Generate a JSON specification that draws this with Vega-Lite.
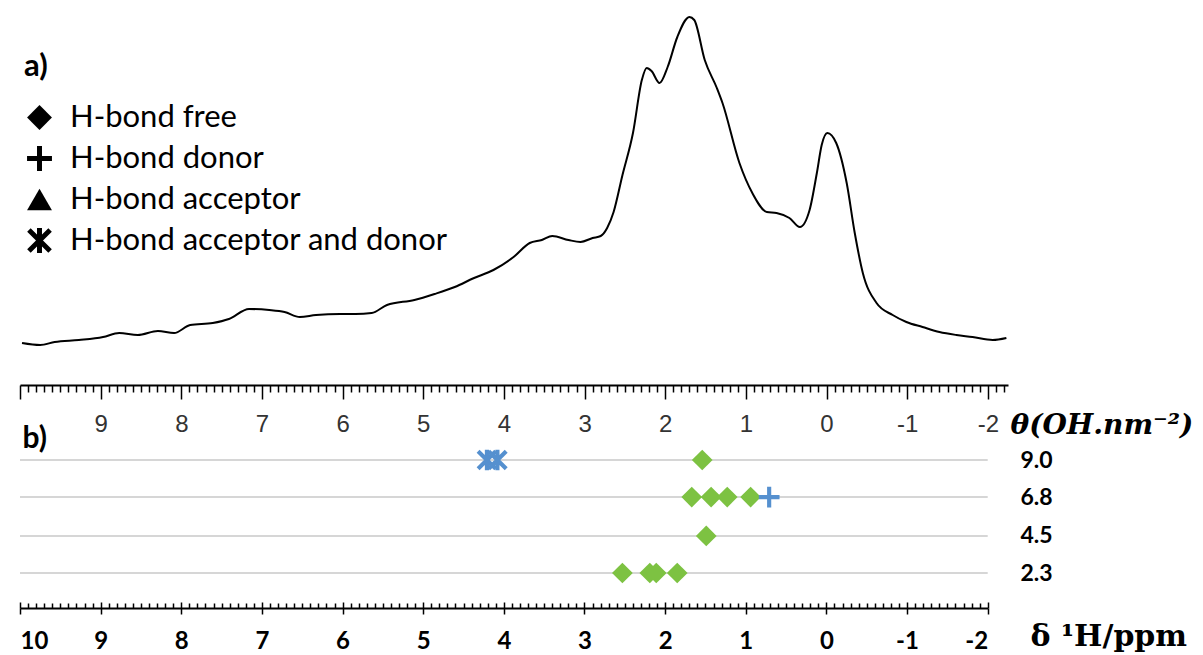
{
  "$schema": "https://vega.github.io/schema/vega-lite/v6.json",
  "width": 1183,
  "height": 655,
  "autosize": {"type": "none"},
  "padding": {"left": 20, "top": 0, "right": 0, "bottom": 0},
  "background": "white",
  "config": {"view": {"stroke": null}, "axis": {"grid": false}},
  "datasets": {
    "spectrum": [
      {"ppm": 9.975, "I": 7}, {"ppm": 9.75, "I": 5}, {"ppm": 9.57, "I": 8}, {"ppm": 9.27, "I": 10},
      {"ppm": 8.97, "I": 13}, {"ppm": 8.77, "I": 17}, {"ppm": 8.54, "I": 15}, {"ppm": 8.29, "I": 19},
      {"ppm": 8.09, "I": 17}, {"ppm": 7.89, "I": 25}, {"ppm": 7.61, "I": 27}, {"ppm": 7.41, "I": 31},
      {"ppm": 7.16, "I": 41}, {"ppm": 6.91, "I": 40}, {"ppm": 6.72, "I": 38}, {"ppm": 6.53, "I": 33},
      {"ppm": 6.33, "I": 35}, {"ppm": 6.03, "I": 36}, {"ppm": 5.84, "I": 36}, {"ppm": 5.64, "I": 37},
      {"ppm": 5.45, "I": 45}, {"ppm": 5.11, "I": 50}, {"ppm": 4.86, "I": 56}, {"ppm": 4.61, "I": 63},
      {"ppm": 4.37, "I": 72}, {"ppm": 4.13, "I": 80}, {"ppm": 3.88, "I": 93}, {"ppm": 3.68, "I": 107},
      {"ppm": 3.53, "I": 110}, {"ppm": 3.4, "I": 114}, {"ppm": 3.2, "I": 110}, {"ppm": 3.05, "I": 108},
      {"ppm": 2.9, "I": 112}, {"ppm": 2.8, "I": 114}, {"ppm": 2.72, "I": 122}, {"ppm": 2.64, "I": 138},
      {"ppm": 2.53, "I": 175}, {"ppm": 2.4, "I": 217}, {"ppm": 2.29, "I": 270}, {"ppm": 2.23, "I": 282},
      {"ppm": 2.17, "I": 279}, {"ppm": 2.07, "I": 267}, {"ppm": 1.97, "I": 283}, {"ppm": 1.85, "I": 313},
      {"ppm": 1.7, "I": 333}, {"ppm": 1.64, "I": 330}, {"ppm": 1.51, "I": 290}, {"ppm": 1.36, "I": 262},
      {"ppm": 1.29, "I": 247}, {"ppm": 1.08, "I": 187}, {"ppm": 0.92, "I": 157}, {"ppm": 0.74, "I": 138},
      {"ppm": 0.62, "I": 137}, {"ppm": 0.46, "I": 132}, {"ppm": 0.33, "I": 123}, {"ppm": 0.21, "I": 140},
      {"ppm": 0.12, "I": 177}, {"ppm": 0.06, "I": 205}, {"ppm": -0.01, "I": 217}, {"ppm": -0.12, "I": 207},
      {"ppm": -0.25, "I": 167}, {"ppm": -0.35, "I": 117}, {"ppm": -0.45, "I": 77}, {"ppm": -0.62, "I": 47},
      {"ppm": -0.82, "I": 35}, {"ppm": -0.99, "I": 28}, {"ppm": -1.19, "I": 23}, {"ppm": -1.4, "I": 18},
      {"ppm": -1.61, "I": 15}, {"ppm": -1.81, "I": 13}, {"ppm": -2.06, "I": 10}, {"ppm": -2.23, "I": 12}
    ],
    "coverage": [
      {"theta": 9.0}, {"theta": 6.8}, {"theta": 4.5}, {"theta": 2.3}
    ],
    "sites": [
      {"ppm": 4.21, "theta": 9.0, "bond": "H-bond acceptor and donor"},
      {"ppm": 4.08, "theta": 9.0, "bond": "H-bond acceptor and donor"},
      {"ppm": 1.54, "theta": 9.0, "bond": "H-bond free"},
      {"ppm": 1.67, "theta": 6.8, "bond": "H-bond free"},
      {"ppm": 1.43, "theta": 6.8, "bond": "H-bond free"},
      {"ppm": 1.23, "theta": 6.8, "bond": "H-bond free"},
      {"ppm": 0.94, "theta": 6.8, "bond": "H-bond free"},
      {"ppm": 0.71, "theta": 6.8, "bond": "H-bond donor"},
      {"ppm": 1.49, "theta": 4.5, "bond": "H-bond free"},
      {"ppm": 2.53, "theta": 2.3, "bond": "H-bond free"},
      {"ppm": 2.19, "theta": 2.3, "bond": "H-bond free"},
      {"ppm": 2.11, "theta": 2.3, "bond": "H-bond free"},
      {"ppm": 1.85, "theta": 2.3, "bond": "H-bond free"}
    ]
  },
  "layer": [
    {
      "data": {"name": "spectrum"},
      "mark": {"type": "line", "color": "black", "strokeWidth": 2, "interpolate": "monotone"},
      "encoding": {
        "x": {
          "field": "ppm", "type": "quantitative",
          "scale": {"domain": [10, -2.25], "range": [0, 988], "nice": false, "zero": false},
          "axis": {
            "orient": "bottom", "offset": -270, "title": null,
            "tickCount": 123, "labelOverlap": false, "labelBound": false,
            "labelExpr": "abs(datum.value - round(datum.value)) < 0.001 && datum.value < 9.5 ? '' + round(datum.value) : ''",
            "tickSize": {"condition": {"test": "abs(datum.value - round(datum.value)) < 0.001", "value": 14}, "value": 7},
            "tickColor": "black", "tickWidth": 1.5,
            "domainColor": "black", "domainWidth": 2,
            "labelFont": "Liberation Sans", "labelFontSize": 24, "labelColor": "#333333",
            "labelPadding": 13
          }
        },
        "y": {
          "field": "I", "type": "quantitative",
          "scale": {"domain": [0, 340], "range": [350, 10], "nice": false, "zero": false},
          "axis": null
        }
      }
    },
    {
      "data": {"name": "coverage"},
      "mark": {"type": "rule", "color": "#d6d6d6", "strokeWidth": 2},
      "encoding": {
        "x": {
          "datum": 10, "type": "quantitative",
          "scale": {"domain": [10, -2], "range": [0, 967.7], "nice": false, "zero": false},
          "axis": {
            "orient": "bottom", "offset": -47, "title": null,
            "tickCount": 120, "labels": false, "domain": false,
            "tickSize": {"condition": {"test": "abs(datum.value - round(datum.value)) < 0.001", "value": -6}, "value": -5},
            "tickColor": "black", "tickWidth": 1.5
          }
        },
        "x2": {"datum": -2},
        "y": {
          "field": "theta", "type": "quantitative",
          "scale": {"domain": [2.3, 9.0], "range": [573, 460], "nice": false, "zero": false},
          "axis": {
            "orient": "left", "labels": false, "ticks": false, "domain": false,
            "title": "b)", "titleAngle": 0, "titleAlign": "left", "titleBaseline": "alphabetic",
            "titleX": 2, "titleY": 447,
            "titleFont": "Lato", "titleFontSize": 30, "titleFontWeight": "bold", "titleColor": "black"
          }
        }
      }
    },
    {
      "data": {"name": "sites"},
      "mark": {"type": "point", "filled": true, "opacity": 1, "size": 430, "strokeWidth": 0},
      "encoding": {
        "x": {
          "field": "ppm", "type": "quantitative",
          "scale": {"domain": [10, -2], "range": [0, 967.7], "nice": false, "zero": false},
          "axis": {
            "orient": "bottom", "offset": -47,
            "values": [10, 9, 8, 7, 6, 5, 4, 3, 2, 1, 0, -1, -2],
            "labelExpr": "'' + datum.value",
            "tickSize": 6, "tickColor": "black", "tickWidth": 1.5,
            "domainColor": "black", "domainWidth": 2,
            "labelFont": "Lato", "labelFontWeight": "bold", "labelFontSize": 24, "labelColor": "black",
            "labelBaseline": "alphabetic", "labelPadding": 34,
            "labelOverlap": false, "labelBound": false,
            "title": "δ ¹H/ppm", "titleAngle": 0, "titleAlign": "left", "titleBaseline": "alphabetic",
            "titleX": 1010, "titleY": 37,
            "titleFont": "DejaVu Serif", "titleFontWeight": "bold", "titleFontSize": 30, "titleColor": "black"
          }
        },
        "y": {
          "field": "theta", "type": "quantitative",
          "scale": {"domain": [2.3, 9.0], "range": [573, 460], "nice": false, "zero": false},
          "axis": {
            "orient": "right", "offset": -195,
            "values": [9.0, 6.8, 4.5, 2.3], "format": ".1f",
            "ticks": false, "domain": false,
            "labelFont": "Lato", "labelFontWeight": "bold", "labelFontSize": 23, "labelColor": "black",
            "labelPadding": 12, "labelBaseline": "middle",
            "title": "θ(OH.nm⁻²)", "titleAngle": 0, "titleAlign": "left", "titleBaseline": "alphabetic",
            "titleX": 2, "titleY": 433,
            "titleFont": "DejaVu Serif", "titleFontStyle": "italic", "titleFontWeight": "bold",
            "titleFontSize": 28, "titleColor": "black"
          }
        },
        "shape": {
          "field": "bond", "type": "nominal",
          "scale": {
            "domain": ["H-bond free", "H-bond donor", "H-bond acceptor", "H-bond acceptor and donor"],
            "range": [
              "diamond",
              "M-1,-0.2L-0.2,-0.2L-0.2,-1L0.2,-1L0.2,-0.2L1,-0.2L1,0.2L0.2,0.2L0.2,1L-0.2,1L-0.2,0.2L-1,0.2Z",
              "triangle-up",
              "M-0.2,-1L0.2,-1L0.2,1L-0.2,1ZM-0.71,-0.99L0.99,0.71L0.71,0.99L-0.99,-0.71ZM0.71,-0.99L0.99,-0.71L-0.71,0.99L-0.99,0.71Z"
            ]
          },
          "legend": {
            "orient": "none", "legendX": 4, "legendY": 52, "direction": "vertical",
            "title": "a)", "titleFont": "Lato", "titleFontSize": 31, "titleFontWeight": "bold",
            "titleColor": "black", "titlePadding": 19,
            "labelFont": "Lato", "labelFontSize": 31, "labelColor": "black", "labelOffset": 15,
            "labelLimit": 600,
            "symbolSize": 620, "symbolFillColor": "black", "symbolStrokeColor": "black",
            "symbolStrokeWidth": 0, "symbolOpacity": 1,
            "rowPadding": 9, "padding": 0
          }
        },
        "color": {
          "field": "bond", "type": "nominal",
          "scale": {"range": ["#5590cf", "#5590cf", "#7dc242"]},
          "legend": null
        }
      }
    }
  ],
  "resolve": {
    "scale": {"x": "independent", "y": "independent"},
    "axis": {"x": "independent", "y": "independent"}
  }
}
